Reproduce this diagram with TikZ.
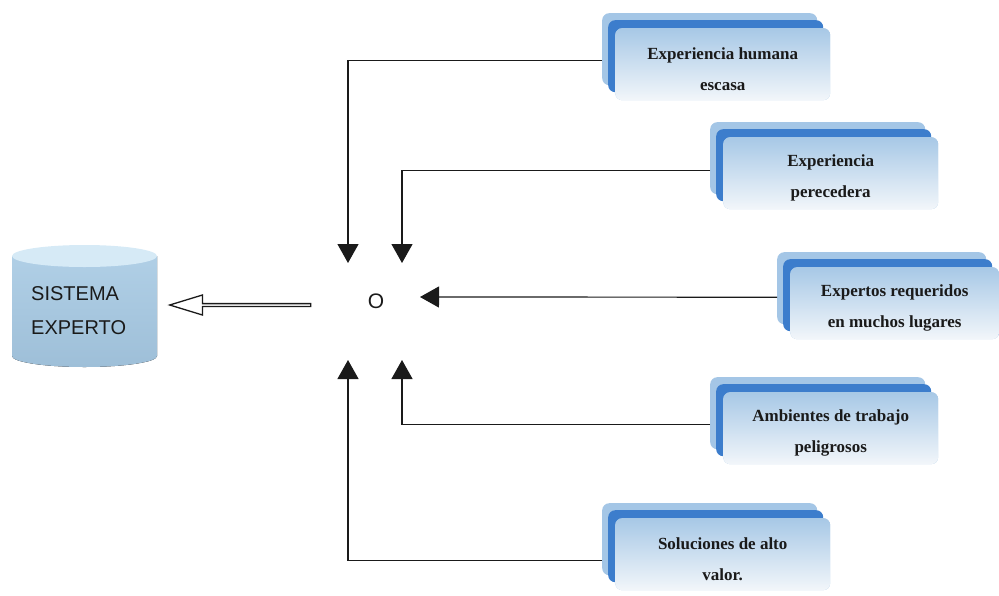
\documentclass[tikz,border=0pt]{standalone}
\usepackage{fontspec}
\setmainfont{Liberation Serif}
\newfontfamily\arialfont{Liberation Sans}
\usetikzlibrary{arrows.meta,shapes.arrows}
\definecolor{backblue}{HTML}{A4C6E6}
\definecolor{midblue}{HTML}{3C7DCC}
\definecolor{fronttop}{HTML}{A7C8E6}
\definecolor{frontbot}{HTML}{F2F6FA}
\definecolor{cylbodytop}{HTML}{B0CFE6}
\definecolor{cylbodybot}{HTML}{9EBFD8}
\definecolor{cyltop}{HTML}{D6EAF6}
\definecolor{inkblack}{HTML}{1A1A1A}
\tikzset{
  backbox/.style={draw=none, fill=backblue, rounded corners=7pt, minimum height=72pt, anchor=north west, inner sep=0pt},
  midbox/.style={backbox, fill=midblue},
  frontbox/.style={backbox, top color=fronttop, bottom color=frontbot},
  boxtext/.style={align=center, text=inkblack, inner sep=0pt,
    font=\fontsize{17}{31}\selectfont\bfseries},
  conn/.style={line width=1.2pt, draw=inkblack, -{Triangle[length=19pt,width=21pt]}},
}
\newcommand\stackbox[5]{%
  \node[backbox, minimum width=#5] (#1back) at (#2-13,#3-15) {};
  \node[midbox, minimum width=#5] (#1mid) at (#2-7,#3-8) {};
  \node[frontbox, minimum width=#5] (#1) at (#2,#3) {};
  \node[boxtext] (#1text) at ([yshift=-5pt]#1.center) {#4};
}
\begin{document}
\begin{tikzpicture}[x=1pt,y=-1pt]
\useasboundingbox (0,0) rectangle (999,595);
% cylinder
\fill[top color=cylbodytop, bottom color=cylbodybot] (12,256) -- (12,356)
  arc[start angle=180, end angle=360, x radius=72.5pt, y radius=11pt] -- (157,256) -- cycle;
\fill[cyltop] (84.5,256) ellipse[x radius=72.5pt, y radius=11pt];
\node[anchor=west, align=left, font=\arialfont\fontsize{20}{34}\selectfont, text=inkblack, inner sep=0pt]
  (sysexp) at (31,311) {SISTEMA\\EXPERTO};
% hollow arrow
\node[single arrow, draw=inkblack, line width=1.3pt, fill=white, shape border rotate=180,
  minimum height=141pt, minimum width=20pt, single arrow head extend=4pt,
  single arrow tip angle=34, inner sep=0pt] (bigarrow) at (242.5,305) {};
% O
\node[font=\arialfont\fontsize{21}{24}\selectfont, text=inkblack] (orr) at (376,301) {O};
% boxes
\stackbox{b1}{615}{28}{Experiencia humana\\escasa}{215pt}
\stackbox{b2}{723}{137}{Experiencia\\perecedera}{215pt}
\stackbox{b3}{790}{267}{Expertos requeridos\\en muchos lugares}{209pt}
\stackbox{b4}{723}{392}{Ambientes de trabajo\\peligrosos}{215pt}
\stackbox{b5}{615}{518}{Soluciones de alto\\valor.}{215pt}
% arrow tips
\coordinate (t1) at (348,263);
\coordinate (t2) at (402,263);
\coordinate (t3) at (420,297);
\coordinate (t4) at (402,360);
\coordinate (t5) at (348,360);
\draw[conn] ([yshift=-11pt]b1back.west) -| (t1);
\draw[conn] ([yshift=-12pt]b2back.west) -| (t2);
\draw[conn] ([yshift=-9pt]b3back.west) -- (t3);
\draw[conn] ([yshift=-11pt]b4back.west) -| (t4);
\draw[conn] ([yshift=-21pt]b5back.west) -| (t5);
\end{tikzpicture}
\end{document}
